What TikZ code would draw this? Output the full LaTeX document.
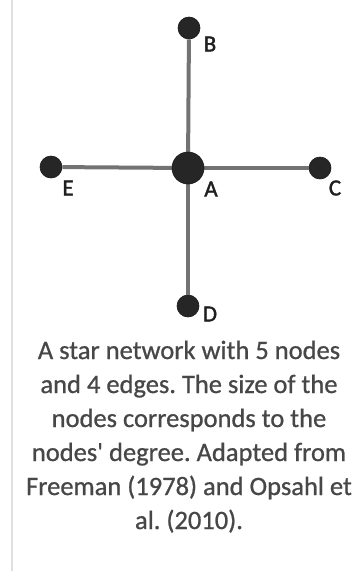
\documentclass[tikz,border=0pt]{standalone}
\usepackage{fontspec}
\setmainfont{Carlito}
\newfontfamily\capfont[FakeBold=0.8]{Carlito}
\newfontfamily\lblfont[FakeBold=1.6]{Carlito}
\frenchspacing
\begin{document}
\begin{tikzpicture}[x=1pt,y=-1pt,
  vert/.style={circle,fill=black!85,draw=black!90,line width=0.6pt,inner sep=0pt,minimum size=#1},
  edge/.style={draw=black!55,line width=4pt},
  lbl/.style={text=black!88,font=\lblfont\fontsize{23}{23}\selectfont,inner sep=0pt},
  captext/.style={text=black!72,font=\capfont\fontsize{26.5}{34}\selectfont,anchor=base,inner sep=0pt}]
\useasboundingbox (0,0) rectangle (359,571);
\fill[white] (0,0) rectangle (359,571);
\draw[black!12,line width=1.5pt] (12,0) -- (12,571);
\coordinate (a) at (188,168);
\node[vert=22pt] (B) at (189,28) {};
\node[vert=22pt] (E) at (51,167) {};
\node[vert=22pt] (C) at (320,168) {};
\node[vert=22pt] (D) at (188,306) {};
\draw[edge] (a) -- (B);
\draw[edge] (a) -- (E);
\draw[edge] (a) -- (C);
\draw[edge] (a) -- (D);
\node[vert=32pt] (A) at (a) {};
\node[lbl] (lB) at (210,44) {B};
\node[lbl] (lE) at (68,188) {E};
\node[lbl] (lA) at (211,189) {A};
\node[lbl] (lC) at (335,188) {C};
\node[lbl] (lD) at (210,314) {D};
\node[captext] (t1) at (189,359) {A star network with 5 nodes};
\node[captext] (t2) at (189,393) {and 4 edges. The size of the};
\node[captext] (t3) at (189,427) {nodes corresponds to the};
\node[captext] (t4) at (189,461) {nodes\textquotesingle{} degree. Adapted from};
\node[captext] (t5) at (189,495) {Freeman (1978) and Opsahl et};
\node[captext] (t6) at (189,529) {al. (2010).};
\end{tikzpicture}
\end{document}
